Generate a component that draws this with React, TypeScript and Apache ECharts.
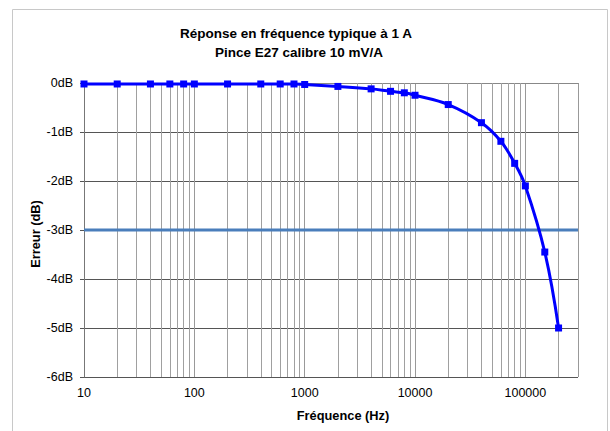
import React, { useEffect, useRef } from "react";
import * as echarts from "echarts";

const frequencies = [10, 20, 40, 60, 80, 100, 200, 400, 600, 800, 1000, 2000, 4000, 6000, 8000, 10000, 20000, 40000, 60000, 80000, 100000, 150000, 200000];
const errorDb = [-0.02, -0.02, -0.02, -0.02, -0.02, -0.02, -0.02, -0.02, -0.02, -0.02, -0.03, -0.07, -0.12, -0.17, -0.2, -0.25, -0.44, -0.81, -1.19, -1.64, -2.1, -3.45, -5.0];
const thresholdX = [10, 300000];
const thresholdY = [-3, -3];
const minorGridX = [20, 30, 40, 50, 60, 70, 80, 90, 200, 300, 400, 500, 600, 700, 800, 900, 2000, 3000, 4000, 5000, 6000, 7000, 8000, 9000, 20000, 30000, 40000, 50000, 60000, 70000, 80000, 90000, 200000];

const titleLine1 = "Réponse en fréquence typique à 1 A";
const titleLine2 = "Pince E27 calibre 10 mV/A";
const xName = "Fréquence (Hz)";
const yName = "Erreur (dB)";

const FONT = "'Liberation Sans', Arial, sans-serif";

export default function App() {
  const ref = useRef<HTMLDivElement>(null);
  useEffect(() => {
    if (!ref.current) return;
    const chart = echarts.init(ref.current, null, { renderer: "svg" });
    chart.setOption({
      animation: false,
      backgroundColor: "#ffffff",
      grid: { left: 84, top: 83, right: 32, bottom: 54, containLabel: false },
      xAxis: {
        type: "log",
        logBase: 10,
        min: 10,
        max: 300000,
        axisLine: { show: true, lineStyle: { color: "#888888", width: 1 } },
        axisTick: { show: false },
        axisLabel: {
          color: "#000",
          fontFamily: FONT,
          fontSize: 12.5,
          margin: 9,
          formatter: (v: number) => {
            const l = Math.log10(v);
            return Math.abs(l - Math.round(l)) < 1e-6 ? String(Math.round(v)) : "";
          },
        },
        splitLine: { show: true, lineStyle: { color: "#999999", width: 1 } },
      },
      yAxis: {
        type: "value",
        min: -6,
        max: 0,
        interval: 1,
        axisLine: { show: true, lineStyle: { color: "#777777", width: 1 } },
        axisTick: { show: true, length: 4, lineStyle: { color: "#555555" } },
        axisLabel: {
          color: "#000",
          fontFamily: FONT,
          fontSize: 12.5,
          margin: 11,
          formatter: (v: number) => `${v}dB`,
        },
        splitLine: { show: true, lineStyle: { color: "#555555", width: 1 } },
      },
      graphic: [
        {
          type: "rect",
          shape: { x: 12.5, y: 9.5, width: 595, height: 440 },
          style: { fill: "none", stroke: "#c8c8c8", lineWidth: 1 },
          silent: true,
        },
        {
          type: "text",
          x: 296,
          y: 40,
          style: { text: titleLine1, fill: "#000", font: `bold 13.5px ${FONT}`, textAlign: "center", textVerticalAlign: "bottom" },
        },
        {
          type: "text",
          x: 299,
          y: 59.5,
          style: { text: titleLine2, fill: "#000", font: `bold 13.5px ${FONT}`, textAlign: "center", textVerticalAlign: "bottom" },
        },
        {
          type: "text",
          x: 343,
          y: 415,
          style: { text: xName, fill: "#000", font: `bold 12.8px ${FONT}`, textAlign: "center", textVerticalAlign: "middle" },
        },
        {
          type: "text",
          x: 35,
          y: 234,
          rotation: Math.PI / 2,
          style: { text: yName, fill: "#000", font: `bold 12.8px ${FONT}`, textAlign: "center", textVerticalAlign: "middle" },
        },
      ],
      series: [
        {
          name: "grille",
          type: "line",
          data: [[10, 0]],
          symbol: "none",
          lineStyle: { opacity: 0 },
          silent: true,
          z: 1,
          markLine: {
            silent: true,
            z: 1,
            symbol: ["none", "none"],
            label: { show: false },
            lineStyle: { color: "#a0a0a0", type: "solid", width: 1 },
            data: minorGridX.map((x) => ({ xAxis: x })),
          },
        },
        {
          name: "-3dB",
          type: "line",
          data: thresholdX.map((x, i) => [x, thresholdY[i]]),
          symbol: "none",
          lineStyle: { color: "#4a7ebb", width: 3 },
          silent: true,
          z: 2,
        },
        {
          name: "Erreur",
          type: "line",
          data: frequencies.map((f, i) => [f, errorDb[i]]),
          smooth: 0.4,
          symbol: "rect",
          symbolSize: 7,
          showAllSymbol: true,
          itemStyle: { color: "#0000ff" },
          lineStyle: { color: "#0000ff", width: 3 },
          z: 3,
        },
      ],
    });
    return () => chart.dispose();
  }, []);
  return <div ref={ref} style={{ position: "fixed", left: 0, top: 0, width: 610, height: 431 }} />;
}
